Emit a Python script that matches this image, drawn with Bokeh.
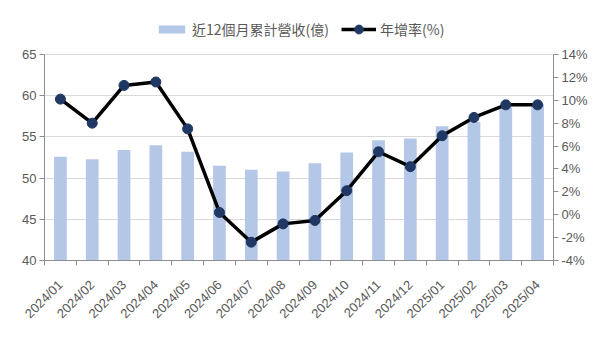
import math
from bokeh.plotting import figure
from bokeh.models import (Range1d, LinearAxis, FixedTicker, PrintfTickFormatter,
                          Legend, LegendItem)
from bokeh.embed import file_html
from bokeh.resources import INLINE

months = ["2024/01", "2024/02", "2024/03", "2024/04", "2024/05", "2024/06",
          "2024/07", "2024/08", "2024/09", "2024/10", "2024/11", "2024/12",
          "2025/01", "2025/02", "2025/03", "2025/04"]
revenue = [52.6, 52.3, 53.4, 54.0, 53.2, 51.5, 51.0, 50.8,
           51.8, 53.1, 54.6, 54.8, 56.3, 56.8, 58.6, 59.0]
growth = [10.1, 8.0, 11.3, 11.6, 7.5, 0.2, -2.4, -0.8,
          -0.5, 2.1, 5.5, 4.2, 6.9, 8.5, 9.6, 9.6]
left_ticks = [40, 45, 50, 55, 60, 65]
right_ticks = [-4, -2, 0, 2, 4, 6, 8, 10, 12, 14]
bar_label = "近12個月累計營收(億)"
line_label = "年增率(%)"

idx = list(range(len(months)))
AXIS = "#8c8c8c"
LABEL = "#595959"
TICK_FONT = "Liberation Sans"

# plot area: axes span 206px; extra 40px above (legend room) inside the frame
AX_PX, TOP_PX = 206, 40
l_lo, l_hi = left_ticks[0], left_ticks[-1]
r_lo, r_hi = right_ticks[0], right_ticks[-1]
l_end = l_hi + (l_hi - l_lo) * TOP_PX / AX_PX
r_end = r_hi + (r_hi - r_lo) * TOP_PX / AX_PX

p = figure(width=594, height=350, output_backend="svg", toolbar_location=None,
           x_range=Range1d(-0.5, len(months) - 0.5),
           y_range=Range1d(l_lo, l_end),
           min_border_left=44, min_border_right=41,
           min_border_top=54 - TOP_PX, min_border_bottom=90)
p.outline_line_color = None
p.background_fill_color = "white"
p.border_fill_color = "white"
p.extra_y_ranges = {"pct": Range1d(r_lo, r_end)}

bars = p.vbar(x=idx, top=revenue, bottom=l_lo, width=0.4,
              fill_color="#b4c7e7", line_color=None)
ln = p.line(idx, growth, y_range_name="pct", line_color="black", line_width=3.5)
sc = p.scatter(idx, growth, y_range_name="pct", size=10,
               fill_color="#1f3864", line_color="#1f3864")

# x axis
xa = p.xaxis[0]
xa.ticker = FixedTicker(ticks=idx, minor_ticks=[i - 0.5 for i in range(len(months) + 1)])
xa.major_label_overrides = {i: m for i, m in enumerate(months)}
xa.major_label_orientation = math.pi / 4
xa.major_tick_line_color = None
xa.minor_tick_line_color = AXIS
xa.minor_tick_in = 0
xa.minor_tick_out = 5
xa.axis_line_color = AXIS
xa.major_label_text_color = LABEL
xa.major_label_text_font = TICK_FONT
xa.major_label_text_font_size = "13px"
xa.major_label_standoff = 16

# left axis
ya = p.yaxis[0]
ya.ticker = FixedTicker(ticks=left_ticks)
ya.bounds = (l_lo, l_hi)
ya.major_tick_in = 0
ya.major_tick_out = 5
ya.major_tick_line_color = AXIS
ya.minor_tick_line_color = None
ya.axis_line_color = AXIS
ya.major_label_text_color = LABEL
ya.major_label_text_font = TICK_FONT
ya.major_label_text_font_size = "13px"
ya.major_label_standoff = 3

# right axis
ra = LinearAxis(y_range_name="pct", ticker=FixedTicker(ticks=right_ticks),
                formatter=PrintfTickFormatter(format="%d%%"), bounds=(r_lo, r_hi))
ra.major_tick_in = 0
ra.major_tick_out = 5
ra.major_tick_line_color = AXIS
ra.minor_tick_line_color = None
ra.axis_line_color = AXIS
ra.major_label_text_color = LABEL
ra.major_label_text_font = TICK_FONT
ra.major_label_text_font_size = "13px"
ra.major_label_standoff = 3
p.add_layout(ra, "right")

p.xgrid.grid_line_color = None
p.ygrid.grid_line_color = "#d9d9d9"
p.ygrid.ticker = FixedTicker(ticks=left_ticks)


def make_legend(items, loc, gw, gh):
    lg = Legend(items=items, orientation="horizontal", location=loc)
    lg.border_line_color = None
    lg.background_fill_alpha = 0
    lg.label_text_font = "Noto Sans CJK TC"
    lg.label_text_font_size = "14px"
    lg.label_text_color = LABEL
    lg.glyph_width = gw
    lg.glyph_height = gh
    lg.spacing = 4
    lg.label_standoff = 4
    lg.padding = 0
    lg.margin = 0
    return lg


p.add_layout(make_legend([LegendItem(label=bar_label, renderers=[bars])],
                         (111, 221), 33, 10), "center")
p.add_layout(make_legend([LegendItem(label=line_label, renderers=[ln, sc])],
                         (297, 220), 35, 22), "center")

open("out.html", "w").write(file_html(p, INLINE))
